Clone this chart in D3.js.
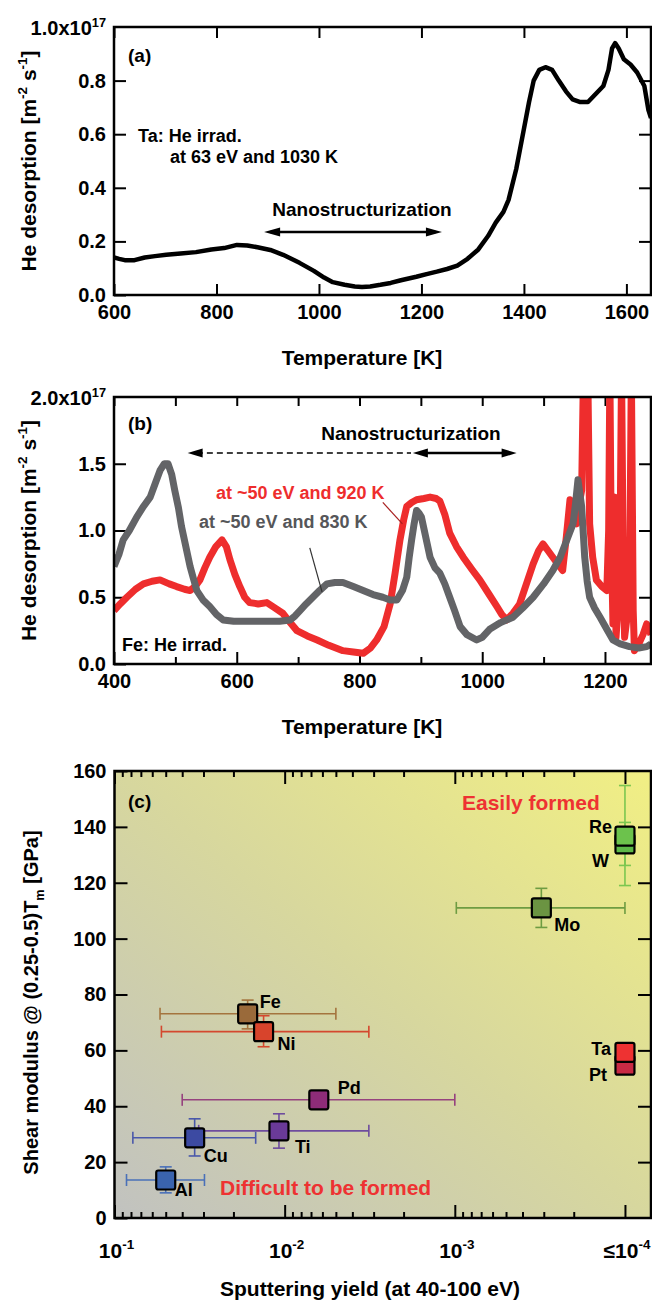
<!DOCTYPE html>
<html>
<head>
<meta charset="utf-8">
<script src="https://cdn.jsdelivr.net/npm/d3@7"></script>
<style>
  body { margin: 0; background: #fff; }
  svg { display: block; }
  text { font-family: "Liberation Sans", Arial, Helvetica, sans-serif; font-weight: bold; fill: #000; }
</style>
</head>
<body>
<script>
const width = 652;
const height = 1301;

// ---- panel (a): Ta, He desorption vs temperature ----
const tempA = [600, 610, 621, 640, 660, 680, 702, 730, 760, 790, 815, 840, 860, 880, 905, 930, 962, 990, 1010, 1027,
  1050, 1070, 1084, 1100, 1120, 1140, 1160, 1190, 1210, 1230, 1250, 1270, 1290, 1311, 1330, 1345, 1360, 1370, 1385, 1400,
  1410, 1419, 1430, 1442, 1455, 1468, 1482, 1495, 1510, 1525, 1540, 1555, 1565, 1572, 1578, 1585, 1595, 1608, 1621, 1635, 1643, 1648];
const desorpA = [0.14, 0.135, 0.13, 0.13, 0.14, 0.145, 0.15, 0.155, 0.16, 0.17, 0.175, 0.187, 0.185, 0.178, 0.168, 0.15, 0.12, 0.09, 0.065, 0.048,
  0.038, 0.032, 0.03, 0.032, 0.038, 0.045, 0.055, 0.068, 0.078, 0.087, 0.097, 0.11, 0.135, 0.17, 0.22, 0.27, 0.31, 0.355, 0.47, 0.62,
  0.72, 0.80, 0.84, 0.85, 0.84, 0.80, 0.76, 0.73, 0.72, 0.72, 0.75, 0.78, 0.84, 0.92, 0.94, 0.92, 0.88, 0.86, 0.83, 0.78, 0.69, 0.66];
const ticksA = [600, 800, 1000, 1200, 1400, 1600];
const yTicksA = [0, 0.2, 0.4, 0.6, 0.8];

// ---- panel (b): Fe, two irradiation temperatures ----
const temp830 = [400, 408, 415, 425, 437, 448, 459, 467, 475, 482, 488, 494, 499, 505, 510, 517, 524, 530, 535, 545,
  556, 567, 578, 595, 611, 630, 654, 670, 687, 695, 703, 713, 724, 735, 747, 760, 773, 790, 806, 822,
  838, 850, 861, 870, 877, 881, 885, 889, 893, 897, 901, 908, 915, 923, 931, 939, 947, 955, 964, 975,
  991, 1000, 1012, 1030, 1050, 1066, 1083, 1100, 1115, 1127, 1138, 1148, 1152, 1156, 1159, 1162, 1167, 1171, 1175, 1183,
  1192, 1203, 1213, 1225, 1240, 1255, 1268, 1275];
const desorp830 = [0.73, 0.82, 0.93, 1.00, 1.10, 1.18, 1.25, 1.35, 1.45, 1.50, 1.50, 1.42, 1.30, 1.17, 1.03, 0.88, 0.73, 0.63, 0.55, 0.48,
  0.43, 0.37, 0.33, 0.32, 0.32, 0.32, 0.32, 0.32, 0.33, 0.36, 0.40, 0.45, 0.50, 0.55, 0.60, 0.61, 0.61, 0.58, 0.55, 0.52,
  0.50, 0.48, 0.48, 0.55, 0.65, 0.80, 0.93, 1.05, 1.15, 1.13, 1.10, 0.95, 0.80, 0.72, 0.68, 0.60, 0.50, 0.40, 0.28, 0.22,
  0.18, 0.20, 0.26, 0.31, 0.35, 0.42, 0.50, 0.60, 0.70, 0.80, 0.93, 1.05, 1.20, 1.38, 1.28, 1.18, 0.80, 0.62, 0.50, 0.42,
  0.35, 0.26, 0.18, 0.15, 0.13, 0.12, 0.13, 0.15];
const temp920 = [400, 410, 421, 435, 448, 462, 475, 490, 502, 515, 524, 532, 540, 548, 556, 566, 576, 583, 589, 597,
  605, 613, 621, 635, 649, 662, 675, 687, 698, 715, 731, 750, 773, 790, 806, 818, 828, 840, 850, 858,
  866, 872, 877, 885, 893, 905, 915, 925, 931, 939, 947, 958, 969, 983, 996, 1010, 1024, 1032, 1040, 1050,
  1061, 1072, 1083, 1092, 1099, 1107, 1115, 1123, 1131, 1137, 1143, 1148, 1154, 1158, 1162, 1165, 1172, 1175, 1180, 1186,
  1195, 1203, 1206, 1208, 1210, 1213, 1216, 1218, 1224, 1227, 1230, 1232, 1240, 1243, 1246, 1248, 1255, 1262, 1268, 1275];
const desorp920 = [0.40, 0.45, 0.50, 0.56, 0.60, 0.62, 0.63, 0.60, 0.58, 0.56, 0.55, 0.58, 0.63, 0.72, 0.80, 0.88, 0.93, 0.88, 0.78, 0.67,
  0.58, 0.50, 0.46, 0.45, 0.46, 0.42, 0.38, 0.31, 0.25, 0.21, 0.18, 0.14, 0.10, 0.09, 0.08, 0.12, 0.18, 0.28, 0.45, 0.68,
  0.93, 1.08, 1.18, 1.21, 1.23, 1.24, 1.25, 1.24, 1.22, 1.12, 0.98, 0.88, 0.80, 0.71, 0.63, 0.53, 0.43, 0.37, 0.33, 0.38,
  0.45, 0.60, 0.75, 0.85, 0.90, 0.85, 0.80, 0.75, 0.70, 0.95, 1.23, 1.12, 1.05, 1.20, 1.30, 2.2, 2.2, 1.05, 0.80, 0.63,
  0.58, 0.55, 1.0, 2.2, 1.0, 0.30, 1.25, 0.20, 0.6, 2.2, 0.6, 0.20, 0.5, 2.2, 0.4, 0.10, 0.15, 0.22, 0.30, 0.22];
const ticksB = [400, 600, 800, 1000, 1200];
const minorB = [500, 700, 900, 1100];
const yTicksB = [0, 0.5, 1.0, 1.5];

// ---- panel (c): shear modulus vs sputtering yield ----
const elements = ["Al", "Cu", "Ti", "Pd", "Fe", "Ni", "Mo", "W", "Re", "Pt", "Ta"];
const yieldVal = [0.050, 0.0338, 0.0108, 0.0063, 0.0165, 0.0133, 0.00031, 0.0001, 0.0001, 0.0001, 0.0001];
const yieldLo = [0.0296, 0.0148, 0.0032, 0.001, 0.005, 0.0032, 0.0001, null, null, null, null];
const yieldHi = [0.085, 0.078, 0.032, 0.04, 0.054, 0.053, 0.00098, null, null, null, null];
const shear = [13.6, 28.7, 31.2, 42.3, 73.1, 66.7, 111, 133.9, 136.7, 54.7, 59.3];
const shearLo = [9, 22.2, 25, null, 67.7, 61.3, 104, 126.2, 119, null, null];
const shearHi = [18.3, 35.5, 37.3, null, 78, 72.4, 118, 141.6, 154.8, null, null];
const fillColors = ["#3a63ae", "#3c4aa2", "#6a3a98", "#8e2c78", "#9a6a3a", "#d8442c", "#6b9442", "#5db848", "#6cc24c", "#c82a44", "#ee3232"];
const barColors = ["#4a70b8", "#4a58aa", "#6e4c9e", "#96427e", "#a4743e", "#d4482e", "#6e9c42", "#7cc650", "#7cc650", "#c82a44", "#ee3232"];
const yTicksC = [0, 20, 40, 60, 80, 100, 120, 140, 160];
const decadesC = [1e-1, 1e-2, 1e-3, 1e-4];
const decadeLabels = [["10", "-1"], ["10", "-2"], ["10", "-3"], ["\u226410", "-4"]];

const svg = d3.select("body")
  .append("svg")
  .attr("width", width)
  .attr("height", height);
const defs = svg.append("defs");

// text with super/subscript pieces: [[str, kind], ...]
function rich(textSel, parts, size) {
  let shift = 0;
  parts.forEach(([s, kind]) => {
    const target = kind === "sup" ? -0.42 * size : kind === "sub" ? 0.28 * size : 0;
    textSel.append("tspan")
      .attr("dy", target - shift)
      .attr("font-size", kind ? size * 0.64 : size)
      .text(s);
    shift = target;
  });
  return textSel;
}

function styleAxis(g, size) {
  g.attr("font-family", null).attr("font-size", null);
  g.select(".domain").remove();
  g.selectAll(".tick line").attr("stroke", "#000").attr("stroke-width", 2);
  g.selectAll(".tick text").attr("font-size", size);
}

function clip(id, x, y) {
  defs.append("clipPath").attr("id", id)
    .append("rect")
    .attr("x", x.range()[0]).attr("y", y.range()[1])
    .attr("width", x.range()[1] - x.range()[0])
    .attr("height", y.range()[0] - y.range()[1]);
}

function frame(x, y) {
  svg.append("rect")
    .attr("x", x.range()[0]).attr("y", y.range()[1])
    .attr("width", x.range()[1] - x.range()[0])
    .attr("height", y.range()[0] - y.range()[1])
    .attr("fill", "none").attr("stroke", "#000").attr("stroke-width", 2.5);
}

function arrowHead(x, y, dir, len, half) {
  svg.append("path")
    .attr("d", `M${x},${y}L${x - dir * len},${y - half}L${x - dir * len},${y + half}Z`)
    .attr("fill", "#000");
}

// ================= panel (a) =================
const xA = d3.scaleLinear().domain([600, 1648]).range([114, 651]);
const yA = d3.scaleLinear().domain([0, 1.0]).range([295, 27]);
clip("clipA", xA, yA);

svg.append("g").attr("transform", `translate(0,${yA(0)})`)
  .call(d3.axisBottom(xA).tickValues(ticksA).tickSize(-11).tickPadding(10).tickFormat(d3.format("d")))
  .call(g => styleAxis(g, 20));
svg.append("g").attr("transform", `translate(0,${yA(1)})`)
  .call(d3.axisTop(xA).tickValues(ticksA).tickSize(-11).tickFormat(""))
  .call(g => styleAxis(g, 20));
svg.append("g").attr("transform", `translate(${xA(600)},0)`)
  .call(d3.axisLeft(yA).tickValues(yTicksA).tickSize(-12).tickPadding(8).tickFormat(d3.format(".1f")))
  .call(g => styleAxis(g, 20));
svg.append("g").attr("transform", `translate(${xA.range()[1]},0)`)
  .call(d3.axisRight(yA).tickValues(yTicksA.slice(1)).tickSize(-12).tickFormat(""))
  .call(g => styleAxis(g, 20));

rich(svg.append("text").attr("x", 106).attr("y", yA(1) + 8).attr("text-anchor", "end"),
  [["1.0x10", null], ["17", "sup"]], 20);

svg.append("path")
  .datum(tempA.map((t, i) => [t, desorpA[i]]))
  .attr("clip-path", "url(#clipA)")
  .attr("fill", "none").attr("stroke", "#000").attr("stroke-width", 4.5)
  .attr("stroke-linejoin", "round")
  .attr("d", d3.line().x(d => xA(d[0])).y(d => yA(d[1])));

frame(xA, yA);

svg.append("text").attr("x", 128).attr("y", 62).attr("font-size", 19).text("(a)");
svg.append("text").attr("x", 138).attr("y", 142).attr("font-size", 18).text("Ta: He irrad.");
svg.append("text").attr("x", 170).attr("y", 163).attr("font-size", 18).text("at 63 eV and 1030 K");
svg.append("text").attr("x", 362).attr("y", 216).attr("font-size", 19).attr("text-anchor", "middle").text("Nanostructurization");
const arrYA = yA(0.235);
svg.append("line").attr("x1", xA(905)).attr("x2", xA(1228)).attr("y1", arrYA).attr("y2", arrYA)
  .attr("stroke", "#000").attr("stroke-width", 2.5);
arrowHead(xA(893), arrYA, -1, 16, 4.5);
arrowHead(xA(1240), arrYA, 1, 16, 4.5);

svg.append("text").attr("x", 362).attr("y", 365).attr("font-size", 21).attr("text-anchor", "middle").text("Temperature [K]");
rich(svg.append("text").attr("transform", `translate(36,${(yA(0) + yA(1)) / 2}) rotate(-90)`).attr("text-anchor", "middle"),
  [["He desorption [m", null], ["-2", "sup"], [" s", null], ["-1", "sup"], ["]", null]], 21);

// ================= panel (b) =================
const xB = d3.scaleLinear().domain([400, 1275]).range([114, 651]);
const yB = d3.scaleLinear().domain([0, 2.0]).range([664, 397]);
clip("clipB", xB, yB);

svg.append("g").attr("transform", `translate(0,${yB(0)})`)
  .call(d3.axisBottom(xB).tickValues(ticksB).tickSize(-12).tickPadding(10).tickFormat(d3.format("d")))
  .call(g => styleAxis(g, 20));
svg.append("g").attr("transform", `translate(0,${yB(0)})`)
  .call(d3.axisBottom(xB).tickValues(minorB).tickSize(-7).tickFormat(""))
  .call(g => styleAxis(g, 20));
svg.append("g").attr("transform", `translate(0,${yB(2)})`)
  .call(d3.axisTop(xB).tickValues(ticksB.concat(minorB)).tickSize(-9).tickFormat(""))
  .call(g => styleAxis(g, 20));
svg.append("g").attr("transform", `translate(${xB(400)},0)`)
  .call(d3.axisLeft(yB).tickValues(yTicksB).tickSize(-12).tickPadding(8).tickFormat(d3.format(".1f")))
  .call(g => styleAxis(g, 20));
svg.append("g").attr("transform", `translate(${xB.range()[1]},0)`)
  .call(d3.axisRight(yB).tickValues(yTicksB.slice(1)).tickSize(-12).tickFormat(""))
  .call(g => styleAxis(g, 20));

rich(svg.append("text").attr("x", 106).attr("y", yB(2) + 8).attr("text-anchor", "end"),
  [["2.0x10", null], ["17", "sup"]], 20);

const lineB = d3.line().x(d => xB(d[0])).y(d => yB(d[1]));
svg.append("path")
  .datum(temp920.map((t, i) => [t, desorp920[i]]))
  .attr("clip-path", "url(#clipB)")
  .attr("fill", "none").attr("stroke", "#ee2d2d").attr("stroke-width", 7)
  .attr("stroke-linejoin", "round")
  .attr("d", lineB);
svg.append("path")
  .datum(temp830.map((t, i) => [t, desorp830[i]]))
  .attr("clip-path", "url(#clipB)")
  .attr("fill", "none").attr("stroke", "#636467").attr("stroke-width", 7)
  .attr("stroke-linejoin", "round")
  .attr("d", lineB);

frame(xB, yB);

svg.append("text").attr("x", 128).attr("y", 430).attr("font-size", 19).text("(b)");
svg.append("text").attr("x", 411).attr("y", 440).attr("font-size", 19).attr("text-anchor", "middle").text("Nanostructurization");
const arrYB = yB(1.58);
svg.append("line").attr("x1", xB(535)).attr("x2", xB(884)).attr("y1", arrYB).attr("y2", arrYB)
  .attr("stroke", "#000").attr("stroke-width", 1.5).attr("stroke-dasharray", "6,4");
arrowHead(xB(520), arrYB, -1, 15, 4.5);
svg.append("line").attr("x1", xB(900)).attr("x2", xB(1042)).attr("y1", arrYB).attr("y2", arrYB)
  .attr("stroke", "#000").attr("stroke-width", 2.5);
arrowHead(xB(887), arrYB, -1, 15, 4.5);
arrowHead(xB(1056), arrYB, 1, 15, 4.5);

svg.append("text").attr("x", 216).attr("y", 499).attr("font-size", 18).style("fill", "#ee2d2d").text("at ~50 eV and 920 K");
svg.append("text").attr("x", 199).attr("y", 528).attr("font-size", 18).style("fill", "#555659").text("at ~50 eV and 830 K");
svg.append("line").attr("x1", xB(838)).attr("y1", yB(1.21)).attr("x2", xB(870)).attr("y2", yB(1.05))
  .attr("stroke", "#a82020").attr("stroke-width", 1.2);
svg.append("line").attr("x1", xB(719)).attr("y1", yB(0.87)).attr("x2", xB(739)).attr("y2", yB(0.54))
  .attr("stroke", "#333").attr("stroke-width", 1.2);
svg.append("text").attr("x", 122).attr("y", 651).attr("font-size", 18).text("Fe: He irrad.");

svg.append("text").attr("x", 362).attr("y", 734).attr("font-size", 21).attr("text-anchor", "middle").text("Temperature [K]");
rich(svg.append("text").attr("transform", `translate(36,${(yB(0) + yB(2)) / 2}) rotate(-90)`).attr("text-anchor", "middle"),
  [["He desorption [m", null], ["-2", "sup"], [" s", null], ["-1", "sup"], ["]", null]], 21);

// ================= panel (c) =================
const xC = d3.scaleLog().domain([0.1, 7.03e-5]).range([114.5, 651]);
const yC = d3.scaleLinear().domain([0, 160]).range([1218, 771]);

const grad = defs.append("linearGradient").attr("id", "bgC")
  .attr("x1", 0).attr("y1", 1).attr("x2", 1).attr("y2", 0);
grad.append("stop").attr("offset", 0).attr("stop-color", "#c1c2c0");
grad.append("stop").attr("offset", 0.5).attr("stop-color", "#d7d79e");
grad.append("stop").attr("offset", 1).attr("stop-color", "#f1ef84");
svg.append("rect")
  .attr("x", xC.range()[0]).attr("y", yC(160))
  .attr("width", xC.range()[1] - xC.range()[0]).attr("height", yC(0) - yC(160))
  .attr("fill", "url(#bgC)");

const minorC = [];
[1e-2, 1e-3, 1e-4].forEach(p => { for (let m = 2; m <= 9; m++) minorC.push(m * p); });

[[d3.axisBottom, yC(0)], [d3.axisTop, yC(160)]].forEach(([ax, ty]) => {
  svg.append("g").attr("transform", `translate(0,${ty})`)
    .call(ax(xC).tickValues(decadesC).tickSize(-13).tickFormat(""))
    .call(g => styleAxis(g, 20));
  svg.append("g").attr("transform", `translate(0,${ty})`)
    .call(ax(xC).tickValues(minorC).tickSize(-6).tickFormat(""))
    .call(g => styleAxis(g, 20));
});
svg.append("g").attr("transform", `translate(${xC.range()[0]},0)`)
  .call(d3.axisLeft(yC).tickValues(yTicksC).tickSize(-13).tickPadding(8).tickFormat(d3.format("d")))
  .call(g => styleAxis(g, 20));
svg.append("g").attr("transform", `translate(${xC.range()[1]},0)`)
  .call(d3.axisRight(yC).tickValues(yTicksC.slice(1, -1)).tickSize(-13).tickFormat(""))
  .call(g => styleAxis(g, 20));

decadesC.forEach((v, i) => {
  rich(svg.append("text").attr("x", xC(v) + 2).attr("y", 1258).attr("text-anchor", "middle"),
    [[decadeLabels[i][0], null], [decadeLabels[i][1], "sup"]], 21);
});

// error bars
const cap = 6;
elements.forEach((el, i) => {
  const g = svg.append("g").attr("stroke", barColors[i]).attr("stroke-width", 1.6).attr("fill", "none");
  const px = xC(yieldVal[i]), py = yC(shear[i]);
  if (yieldLo[i] !== null) {
    const xl = xC(yieldLo[i]), xh = xC(yieldHi[i]);
    g.append("line").attr("x1", xl).attr("x2", xh).attr("y1", py).attr("y2", py);
    g.append("line").attr("x1", xl).attr("x2", xl).attr("y1", py - cap).attr("y2", py + cap);
    g.append("line").attr("x1", xh).attr("x2", xh).attr("y1", py - cap).attr("y2", py + cap);
  }
  if (shearLo[i] !== null) {
    const yl = yC(shearLo[i]), yh = yC(shearHi[i]);
    g.append("line").attr("x1", px).attr("x2", px).attr("y1", yl).attr("y2", yh);
    g.append("line").attr("x1", px - cap).attr("x2", px + cap).attr("y1", yl).attr("y2", yl);
    g.append("line").attr("x1", px - cap).attr("x2", px + cap).attr("y1", yh).attr("y2", yh);
  }
});

const sq = 19;
svg.append("g").selectAll("rect")
  .data(elements)
  .enter()
  .append("rect")
  .attr("x", (d, i) => xC(yieldVal[i]) - sq / 2)
  .attr("y", (d, i) => yC(shear[i]) - sq / 2)
  .attr("width", sq).attr("height", sq).attr("rx", 2)
  .attr("fill", (d, i) => fillColors[i])
  .attr("stroke", "#000").attr("stroke-width", 2.2);

// label nudges (pixels from marker centre)
const labelNudge = {
  Al: [9, 16, "start"], Cu: [9, 24, "start"], Ti: [16, 22, "start"], Pd: [19, -6, "start"],
  Fe: [12, -6, "start"], Ni: [14, 18, "start"], Mo: [13, 23, "start"],
  W: [-16, 23, "end"], Re: [-13, -3, "end"], Pt: [-18, 16, "end"], Ta: [-14, 3, "end"]
};
svg.append("g").selectAll("text")
  .data(elements)
  .enter()
  .append("text")
  .attr("x", (d, i) => xC(yieldVal[i]) + labelNudge[d][0])
  .attr("y", (d, i) => yC(shear[i]) + labelNudge[d][1])
  .attr("text-anchor", d => labelNudge[d][2])
  .attr("font-size", 18)
  .text(d => d);

svg.append("rect")
  .attr("x", xC.range()[0]).attr("y", yC(160))
  .attr("width", xC.range()[1] - xC.range()[0]).attr("height", yC(0) - yC(160))
  .attr("fill", "none").attr("stroke", "#000").attr("stroke-width", 2.5);

svg.append("text").attr("x", 128).attr("y", 808).attr("font-size", 19).text("(c)");
svg.append("text").attr("x", 462).attr("y", 810).attr("font-size", 21).style("fill", "#ee3232").text("Easily formed");
svg.append("text").attr("x", 220).attr("y", 1195).attr("font-size", 21).style("fill", "#ee3232").text("Difficult to be formed");

svg.append("text").attr("x", 370).attr("y", 1296).attr("font-size", 21).attr("text-anchor", "middle").text("Sputtering yield (at 40-100 eV)");
rich(svg.append("text").attr("transform", `translate(38,${(yC(0) + yC(160)) / 2 + 8}) rotate(-90)`).attr("text-anchor", "middle"),
  [["Shear modulus @ (0.25-0.5)T", null], ["m", "sub"], ["  [GPa]", null]], 20);
</script>
</body>
</html>
